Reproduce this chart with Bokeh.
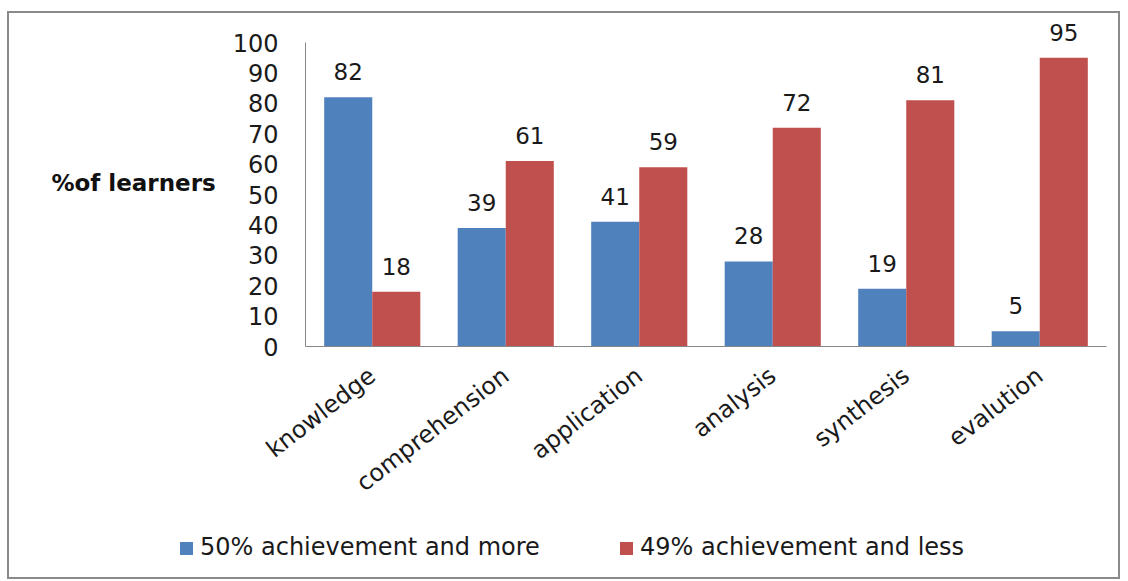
from bokeh.plotting import figure
from bokeh.layouts import column
from bokeh.models import FactorRange, Range1d, ColumnDataSource, LabelSet, FixedTicker, Div
from bokeh.core.properties import value
from bokeh.transform import dodge
from bokeh.embed import file_html
from bokeh.resources import INLINE

categories = ["knowledge", "comprehension", "application", "analysis", "synthesis", "evalution"]
series_names = ["50% achievement and more", "49% achievement and less"]
above50 = [82, 39, 41, 28, 19, 5]
below49 = [18, 61, 59, 72, 81, 95]
y_ticks = [0, 10, 20, 30, 40, 50, 60, 70, 80, 90, 100]

BLUE = "#4F81BD"
RED = "#C0504D"
FONT = "DejaVu Sans"
TXT = "#1a1a1a"

src = ColumnDataSource(dict(cat=categories, a=above50, b=below49,
                            a_txt=[str(v) for v in above50], b_txt=[str(v) for v in below49]))

p = figure(x_range=FactorRange(*categories, range_padding=0), y_range=Range1d(0, 107.9),
           width=1109, height=510, output_backend="svg", toolbar_location=None,
           min_border_left=296, min_border_right=12, min_border_top=5, min_border_bottom=177)

r1 = p.vbar(x=dodge("cat", -0.18, range=p.x_range), top="a", width=0.36, source=src, color=BLUE, line_color=None)
r2 = p.vbar(x=dodge("cat", 0.18, range=p.x_range), top="b", width=0.36, source=src, color=RED, line_color=None)

for col, off in (("a", -0.18), ("b", 0.18)):
    p.add_layout(LabelSet(x=dodge("cat", off, range=p.x_range), y=col, text=col + "_txt", source=src,
                          text_align="center", text_baseline="alphabetic", y_offset=17,
                          text_font=value(FONT), text_font_size="23px", text_color=TXT))

p.xgrid.visible = False
p.ygrid.visible = False
p.outline_line_color = None

p.yaxis.bounds = (0, 100)
p.yaxis.ticker = FixedTicker(ticks=y_ticks)
p.yaxis.major_tick_line_color = None
p.yaxis.minor_tick_line_color = None
p.yaxis.axis_line_color = "#868686"
p.yaxis.major_label_text_font = FONT
p.yaxis.major_label_text_font_size = "24px"
p.yaxis.major_label_text_color = TXT
p.yaxis.major_label_standoff = 21
p.yaxis.axis_label = "%of learners"
p.yaxis.axis_label_text_font = FONT
p.yaxis.axis_label_text_font_style = "bold"
p.yaxis.axis_label_text_font_size = "23px"
p.yaxis.axis_label_text_color = "#111111"
p.yaxis.axis_label_text_baseline = "top"
p.yaxis.axis_label_standoff = 14
try:
    p.yaxis.axis_label_orientation = "horizontal"
except Exception:
    pass

p.xaxis.major_tick_line_color = None
p.xaxis.minor_tick_line_color = None
p.xaxis.axis_line_color = "#868686"
p.xaxis.major_label_text_font = FONT
p.xaxis.major_label_text_font_size = "24px"
p.xaxis.major_label_text_color = TXT
p.xaxis.major_label_orientation = 0.66
p.xaxis.major_label_standoff = 20

# legend strip below the chart
def legend_entry(left, color, label):
    return (f'<span style="position:absolute;left:{left}px;top:19px;width:13px;height:13px;'
            f'background:{color};"></span>'
            f'<span style="position:absolute;left:{left + 20}px;top:10px;line-height:28px;'
            f'white-space:nowrap;">{label}</span>')

legend_html = ('<div style="position:relative;width:1109px;height:54px;'
               f'font-family:\'{FONT}\';font-size:24px;color:{TXT};">'
               + legend_entry(171, BLUE, series_names[0])
               + legend_entry(611, RED, series_names[1])
               + '</div>')
legend_div = Div(text=legend_html, width=1109, height=54, margin=0)

layout = column(p, legend_div, spacing=0,
                styles={"border": "2px solid #8a8a8a", "margin-left": "7px", "margin-top": "11px"})

open("out.html", "w").write(file_html(layout, INLINE))
